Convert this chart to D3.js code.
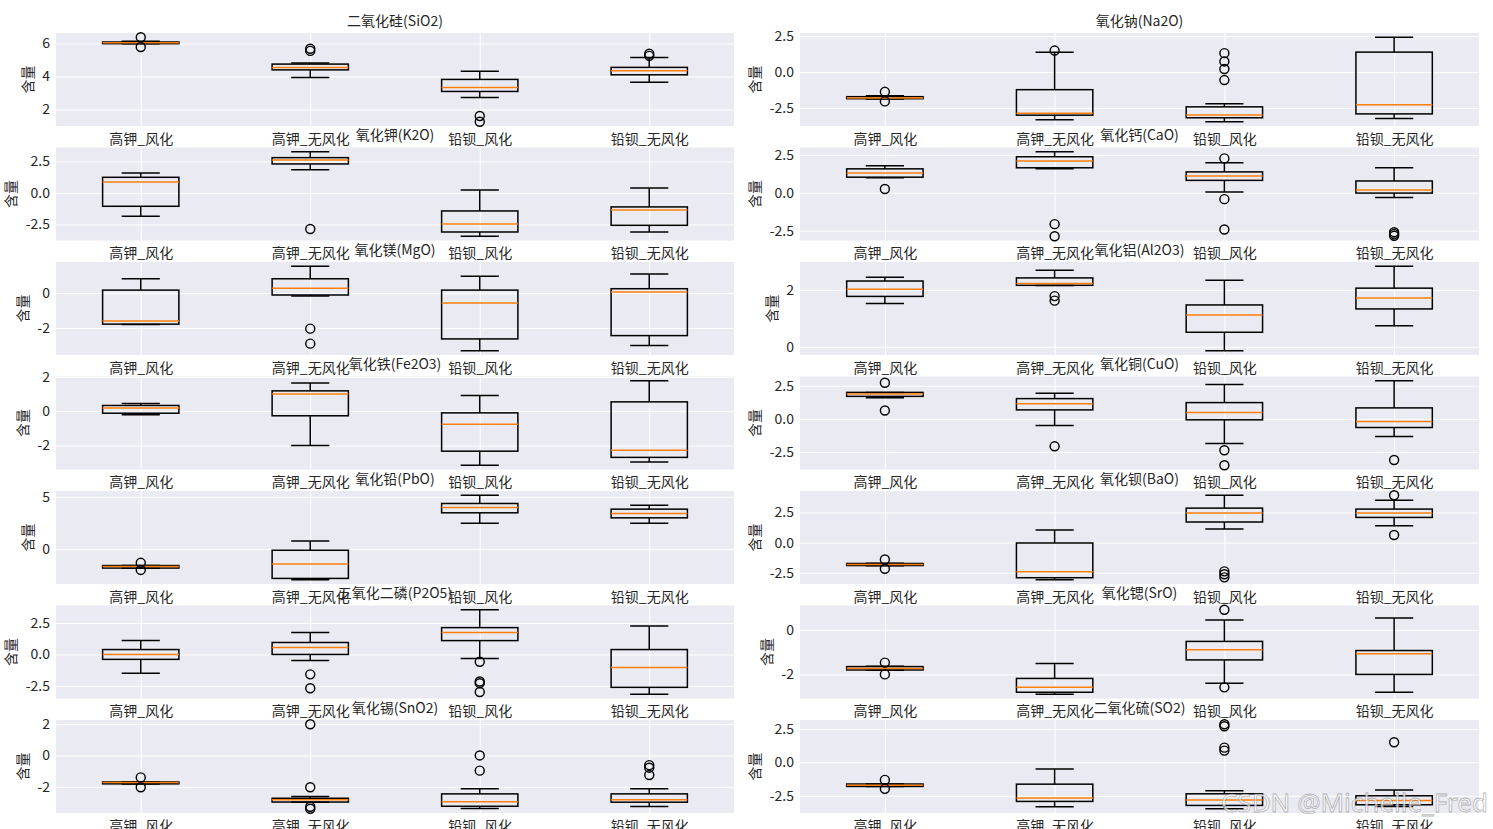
<!DOCTYPE html>
<html>
<head>
<meta charset="utf-8">
<script src="https://cdn.jsdelivr.net/npm/d3@7"></script>
<style>
  body { margin: 0; background: #fff; }
  text { font-family: "Noto Sans CJK SC", "Noto Sans", sans-serif; }
</style>
</head>
<body>
<div id="main"></div>
<script>
// groups on the x axis of every panel
const groups = ["高钾_风化", "高钾_无风化", "铅钡_风化", "铅钡_无风化"];

// box stats per group: [whisker low, q1, median, q3, whisker high]
const SiO2 = [[5.98, 5.99, 6.04, 6.09, 6.13], [3.94, 4.40, 4.55, 4.75, 4.81], [2.73, 3.09, 3.33, 3.82, 4.32], [3.65, 4.10, 4.34, 4.55, 5.15]];
const SiO2_out = [[6.38, 5.79], [5.68, 5.55], [1.6, 1.25], [5.38, 5.25]];
const SiO2_ticks = [2, 4, 6];

const Na2O = [[-1.88, -1.86, -1.81, -1.72, -1.66], [-3.33, -3.01, -2.87, -1.23, 1.39], [-3.47, -3.19, -2.99, -2.43, -2.22], [-3.24, -2.92, -2.29, 1.39, 2.43]];
const Na2O_out = [[-1.38, -2.05], [1.5], [1.32, 0.74, 0.21, -0.56], []];
const Na2O_ticks = [-2.5, 0, 2.5];

const K2O = [[-1.86, -1.06, 0.87, 1.24, 1.59], [1.83, 2.30, 2.62, 2.80, 3.27], [-3.44, -3.10, -2.46, -1.43, 0.24], [-3.10, -2.57, -1.35, -1.11, 0.40]];
const K2O_out = [[], [-2.86], [], []];
const K2O_ticks = [-2.5, 0, 2.5];

const CaO = [[1.0, 1.03, 1.31, 1.58, 1.78], [1.58, 1.65, 2.09, 2.38, 2.71], [0.05, 0.82, 1.11, 1.38, 1.98], [-0.31, -0.02, 0.18, 0.78, 1.65]];
const CaO_out = [[0.25], [-2.07, -2.87], [2.27, -0.42, -2.42], [-2.6, -2.72, -2.84]];
const CaO_ticks = [-2.5, 0, 2.5];

const MgO = [[-1.80, -1.78, -1.60, 0.17, 0.82], [-0.17, -0.11, 0.28, 0.82, 1.54], [-3.31, -2.63, -0.57, 0.17, 0.97], [-3.01, -2.44, 0.06, 0.25, 1.09]];
const MgO_out = [[], [-2.04, -2.9], [], []];
const MgO_ticks = [-2, 0];

const Al2O3 = [[1.52, 1.77, 2.02, 2.31, 2.44], [2.15, 2.16, 2.22, 2.42, 2.69], [-0.14, 0.51, 1.12, 1.47, 2.34], [0.74, 1.33, 1.71, 2.06, 2.83]];
const Al2O3_out = [[], [1.78, 1.62], [], []];
const Al2O3_ticks = [0, 2];

const Fe2O3 = [[-0.21, -0.12, 0.19, 0.33, 0.44], [-2.0, -0.27, 1.0, 1.18, 1.64], [-3.15, -2.33, -0.77, -0.1, 0.91], [-2.96, -2.69, -2.27, 0.54, 1.77]];
const Fe2O3_out = [[], [], [], []];
const Fe2O3_ticks = [-2, 0, 2];

const CuO = [[1.6, 1.70, 1.88, 2.0, 2.0], [-0.5, 0.68, 1.15, 1.53, 1.93], [-1.85, -0.07, 0.48, 1.23, 2.6], [-1.33, -0.65, -0.2, 0.83, 2.88]];
const CuO_out = [[2.73, 0.63], [-2.07], [-2.37, -3.5], [-3.1]];
const CuO_ticks = [-2.5, 0, 2.5];

const PbO = [[-1.81, -1.80, -1.65, -1.56, -1.56], [-2.92, -2.79, -1.42, -0.1, 0.79], [2.47, 3.48, 3.99, 4.37, 5.16], [2.47, 3.0, 3.42, 3.83, 4.21]];
const PbO_out = [[-1.3, -1.98], [], [], []];
const PbO_ticks = [0, 5];

const BaO = [[-1.92, -1.90, -1.81, -1.73, -1.70], [-3.08, -2.91, -2.42, -0.03, 1.05], [1.13, 1.71, 2.45, 2.86, 3.93], [1.40, 2.09, 2.45, 2.78, 3.52]];
const BaO_out = [[-1.40, -2.17], [], [-2.38, -2.62, -2.88], [3.93, 0.63]];
const BaO_ticks = [-2.5, 0, 2.5];

const P2O5 = [[-1.5, -0.39, 0.0, 0.39, 1.1], [-0.47, 0.0, 0.55, 0.95, 1.74], [-0.32, 1.1, 1.74, 2.13, 3.55], [-3.16, -2.61, -1.03, 0.39, 2.26]];
const P2O5_out = [[], [-1.58, -2.68], [-0.58, -2.15, -2.28, -2.98], []];
const P2O5_ticks = [-2.5, 0, 2.5];

const SrO = [[-1.81, -1.80, -1.73, -1.65, -1.63], [-2.89, -2.8, -2.58, -2.18, -1.51], [-2.4, -1.35, -0.89, -0.52, 0.44], [-2.8, -2.0, -1.07, -0.93, 0.53]];
const SrO_out = [[-1.47, -2.0], [], [0.9, -2.58], []];
const SrO_ticks = [-2, 0];

const SnO2 = [[-1.82, -1.81, -1.73, -1.69, -1.68], [-2.98, -2.97, -2.83, -2.73, -2.62], [-3.38, -3.24, -2.96, -2.45, -2.13], [-3.26, -2.98, -2.83, -2.45, -2.13]];
const SnO2_out = [[-1.4, -2.03], [1.99, -2.03, -3.27, -3.4], [0.0, -0.97], [-0.62, -0.78, -1.25]];
const SnO2_ticks = [-2, 0, 2];

const SO2 = [[-1.81, -1.80, -1.71, -1.62, -1.61], [-3.32, -2.92, -2.67, -1.63, -0.5], [-3.47, -3.22, -2.82, -2.35, -2.13], [-3.3, -3.17, -2.85, -2.5, -2.06]];
const SO2_out = [[-1.31, -1.98], [], [2.85, 2.7, 1.1, 0.88], [1.5]];
const SO2_ticks = [-2.5, 0, 2.5];

const panels = [
    { title: "二氧化硅(SiO2)", box: SiO2, out: SiO2_out, ticks: SiO2_ticks },
    { title: "氧化钠(Na2O)", box: Na2O, out: Na2O_out, ticks: Na2O_ticks },
    { title: "氧化钾(K2O)", box: K2O, out: K2O_out, ticks: K2O_ticks },
    { title: "氧化钙(CaO)", box: CaO, out: CaO_out, ticks: CaO_ticks },
    { title: "氧化镁(MgO)", box: MgO, out: MgO_out, ticks: MgO_ticks },
    { title: "氧化铝(Al2O3)", box: Al2O3, out: Al2O3_out, ticks: Al2O3_ticks },
    { title: "氧化铁(Fe2O3)", box: Fe2O3, out: Fe2O3_out, ticks: Fe2O3_ticks },
    { title: "氧化铜(CuO)", box: CuO, out: CuO_out, ticks: CuO_ticks },
    { title: "氧化铅(PbO)", box: PbO, out: PbO_out, ticks: PbO_ticks },
    { title: "氧化钡(BaO)", box: BaO, out: BaO_out, ticks: BaO_ticks },
    { title: "五氧化二磷(P2O5)", box: P2O5, out: P2O5_out, ticks: P2O5_ticks },
    { title: "氧化锶(SrO)", box: SrO, out: SrO_out, ticks: SrO_ticks },
    { title: "氧化锡(SnO2)", box: SnO2, out: SnO2_out, ticks: SnO2_ticks },
    { title: "二氧化硫(SO2)", box: SO2, out: SO2_out, ticks: SO2_ticks }
];

const width = 1493;
const height = 829;
const colLeft = [56, 800];
const plotW = [678, 679];
const rowTop = 33;
const rowStep = 114.5;
const plotH = 93;
const textColor = "#262626";

const svg = d3.select("#main")
    .append("svg")
    .attr("width", width)
    .attr("height", height);

panels.forEach((p, i) => {
    const row = Math.floor(i / 2), col = i % 2;
    const w = plotW[col];
    const g = svg.append("g")
        .attr("transform", "translate(" + colLeft[col] + "," + (rowTop + row * rowStep) + ")");

    const x = d3.scaleLinear().domain([0.5, 4.5]).range([0, w]);
    const vals = p.box.flat().concat(p.out.flat());
    const lo = d3.min(vals), hi = d3.max(vals), pad = (hi - lo) * 0.05;
    const y = d3.scaleLinear().domain([lo - pad, hi + pad]).range([plotH, 0]);

    g.append("rect")
        .attr("width", w)
        .attr("height", plotH)
        .attr("fill", "#eaeaf2");

    const decimals = p.ticks.some(t => !Number.isInteger(t)) ? 1 : 0;

    // x grid + labels
    const xa = g.append("g")
        .attr("transform", "translate(0," + plotH + ")")
        .call(d3.axisBottom(x)
            .tickValues([1, 2, 3, 4])
            .tickSize(-plotH)
            .tickPadding(8)
            .tickFormat(d => groups[d - 1]));
    // y grid + labels
    const ya = g.append("g")
        .call(d3.axisLeft(y)
            .tickValues(p.ticks)
            .tickSize(-w)
            .tickPadding(6)
            .tickFormat(d => d.toFixed(decimals)));

    [xa, ya].forEach(a => {
        a.select(".domain").remove();
        a.selectAll(".tick line").attr("stroke", "#fff").attr("stroke-width", 1);
        a.selectAll(".tick text")
            .attr("fill", textColor)
            .style("font-size", "14px")
            .style("font-family", "'Noto Sans CJK SC', sans-serif");
    });

    const bw = (x(1.45) - x(1));
    const boxes = g.append("g").selectAll("g")
        .data(p.box)
        .join("g");

    boxes.each(function (d, j) {
        const b = d3.select(this);
        const cx = x(j + 1);
        const line = (x1, y1, x2, y2, color) => b.append("line")
            .attr("x1", x1).attr("y1", y1).attr("x2", x2).attr("y2", y2)
            .attr("stroke", color || "#000").attr("stroke-width", 1.5);
        // whiskers
        line(cx, y(d[1]), cx, y(d[0]));
        line(cx, y(d[3]), cx, y(d[4]));
        // caps
        line(cx - bw / 4, y(d[0]), cx + bw / 4, y(d[0]));
        line(cx - bw / 4, y(d[4]), cx + bw / 4, y(d[4]));
        // box
        b.append("rect")
            .attr("x", cx - bw / 2)
            .attr("y", y(d[3]))
            .attr("width", bw)
            .attr("height", y(d[1]) - y(d[3]))
            .attr("fill", "none")
            .attr("stroke", "#000")
            .attr("stroke-width", 1.5);
        // median
        line(cx - bw / 2, y(d[2]), cx + bw / 2, y(d[2]), "#ff7f0e");
        // fliers
        b.selectAll("circle")
            .data(p.out[j])
            .join("circle")
            .attr("cx", cx)
            .attr("cy", v => y(v))
            .attr("r", 4.5)
            .attr("fill", "none")
            .attr("stroke", "#000")
            .attr("stroke-width", 1.4);
    });

    g.append("text")
        .attr("x", w / 2)
        .attr("y", -7.5)
        .attr("text-anchor", "middle")
        .attr("fill", textColor)
        .style("font-size", "14px")
        .text(p.title);

    let maxW = 0;
    ya.selectAll(".tick text").each(function () {
        maxW = Math.max(maxW, this.getComputedTextLength());
    });
    const lx = -6 - maxW - 15.5;
    g.append("text")
        .attr("transform", "translate(" + lx + "," + (plotH / 2) + ") rotate(-90)")
        .attr("text-anchor", "middle")
        .attr("dominant-baseline", "central")
        .attr("fill", textColor)
        .style("font-size", "14px")
        .text("含量");
});

svg.append("text")
    .attr("x", 1488)
    .attr("y", 812)
    .attr("text-anchor", "end")
    .attr("fill", "rgba(255,255,255,0.7)")
    .attr("stroke", "rgba(90,90,90,0.45)")
    .attr("stroke-width", 0.8)
    .style("font-size", "26px")
    .style("font-family", "'Noto Sans', sans-serif")
    .text("CSDN @Michelle_Fred");
</script>
</body>
</html>
